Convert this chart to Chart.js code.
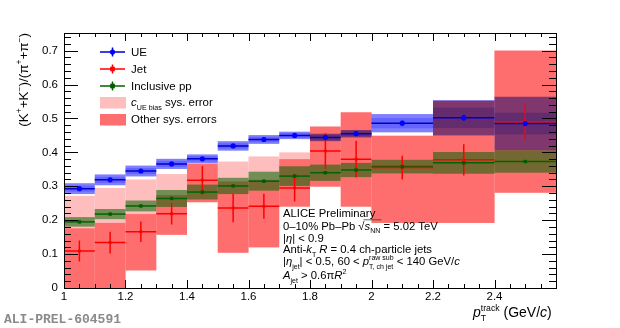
<!DOCTYPE html>
<html>
<head>
<meta charset="utf-8">
<script src="https://cdn.jsdelivr.net/npm/chart.js@4/dist/chart.umd.min.js"></script>
<style>
html,body{margin:0;padding:0;background:#fff;}
#c{display:block;}
</style>
</head>
<body>
<canvas id="c" width="620" height="328"></canvas>
<script>
// ---- data ----
const binLo = [1.0, 1.1, 1.2, 1.3, 1.4, 1.5, 1.6, 1.7, 1.8, 1.9, 2.0, 2.2, 2.4];
const binHi = [1.1, 1.2, 1.3, 1.4, 1.5, 1.6, 1.7, 1.8, 1.9, 2.0, 2.2, 2.4, 2.6];

const ueVal      = [0.293, 0.319, 0.345, 0.366, 0.381, 0.419, 0.438, 0.450, 0.444, 0.455, 0.486, 0.502, 0.485];
const ueStat     = [0.005, 0.005, 0.005, 0.005, 0.005, 0.005, 0.005, 0.005, 0.006, 0.006, 0.007, 0.009, 0.010];
const ueSysOuter = [0.016, 0.016, 0.016, 0.015, 0.013, 0.014, 0.013, 0.011, 0.011, 0.011, 0.027, 0.052, 0.079];
const ueSysInner = [0.009, 0.009, 0.009, 0.009, 0.008, 0.008, 0.008, 0.007, 0.007, 0.007, 0.015, 0.030, 0.032];

const jetVal     = [0.109, 0.134, 0.166, 0.219, 0.318, 0.236, 0.241, 0.295, 0.404, 0.380, 0.355, 0.378, 0.490];
const jetStat    = [0.031, 0.032, 0.030, 0.032, 0.042, 0.042, 0.037, 0.040, 0.052, 0.054, 0.035, 0.046, 0.054];
const jetOtherLo = [0.000, 0.000, 0.052, 0.157, 0.253, 0.104, 0.120, 0.240, 0.299, 0.240, 0.192, 0.192, 0.281];
const jetOtherHi = [0.176, 0.192, 0.218, 0.274, 0.366, 0.314, 0.319, 0.380, 0.476, 0.518, 0.449, 0.552, 0.700];
const jetCueHi   = [0.272, 0.295, 0.320, 0.336, 0.368, 0.373, 0.388, 0.400, 0.476, 0.518, 0.449, 0.552, 0.700];

const ppVal      = [0.195, 0.218, 0.242, 0.264, 0.283, 0.301, 0.315, 0.330, 0.340, 0.348, 0.358, 0.369, 0.373];
const ppSys      = [0.014, 0.015, 0.016, 0.025, 0.022, 0.024, 0.028, 0.029, 0.024, 0.021, 0.020, 0.032, 0.033];

const xTickValues = [1.0, 1.2, 1.4, 1.6, 1.8, 2.0, 2.2, 2.4];
const xTickLabels = ['1', '1.2', '1.4', '1.6', '1.8', '2', '2.2', '2.4'];
const yTickValues = [0, 0.1, 0.2, 0.3, 0.4, 0.5, 0.6, 0.7];
const yTickLabels = ['0', '0.1', '0.2', '0.3', '0.4', '0.5', '0.6', '0.7'];

const FAM = '"Liberation Sans", Arial, Helvetica, sans-serif';
const COL = {
  ue: '#0000ff', ueLine: '#0000c8',
  jet: '#ff0000',
  pp: '#005a00', ppLine: '#006400',
  pink: 'rgb(255,190,190)', red: 'rgb(255,110,110)',
  blueBand: 'rgb(128,128,255)', blueInner: 'rgb(200,200,255)',
  greenBand: 'rgba(0,100,0,0.55)'
};

const centers = binLo.map((lo, i) => (lo + binHi[i]) / 2);
const pts = (vals) => vals.map((v, i) => ({x: centers[i], y: v}));

function font(sz, it) { return (it ? 'italic ' : '') + sz + 'px ' + FAM; }

function drawRich(ctx, x, y, parts, size) {
  let cx = x;
  let olStart = null;
  ctx.textBaseline = 'alphabetic';
  ctx.textAlign = 'left';
  for (const p of parts) {
    if (p.stack) {
      const sz = size * 0.62;
      ctx.font = font(sz, false);
      const w1 = ctx.measureText(p.sup).width, w2 = ctx.measureText(p.sub).width;
      ctx.fillText(p.sup, cx, y - size * 0.42);
      ctx.fillText(p.sub, cx, y + size * 0.33);
      cx += Math.max(w1, w2);
      continue;
    }
    let sz = size, dy = 0;
    if (p.sub) { sz = size * 0.62; dy = size * 0.33; }
    if (p.sup) { sz = size * 0.62; dy = -size * 0.42; }
    ctx.font = font(sz, p.i);
    if (p.olStart) olStart = cx;
    ctx.fillText(p.t, cx, y + dy);
    cx += ctx.measureText(p.t).width;
    if (p.olEnd && olStart !== null) {
      ctx.save();
      ctx.lineWidth = 0.8;
      ctx.beginPath();
      ctx.moveTo(olStart - 1, y - size * 0.86);
      ctx.lineTo(cx + 1, y - size * 0.86);
      ctx.stroke();
      ctx.restore();
    }
  }
  return cx - x;
}

const rootPlugin = {
  id: 'rootPlugin',
  beforeDatasetsDraw(chart) {
    const ctx = chart.ctx, xs = chart.scales.x, ys = chart.scales.y, a = chart.chartArea;
    ctx.save();
    ctx.beginPath();
    ctx.rect(a.left, a.top, a.right - a.left, a.bottom - a.top);
    ctx.clip();
    const box = (i, lo, hi, color) => {
      const x0 = xs.getPixelForValue(binLo[i]), x1 = xs.getPixelForValue(binHi[i]);
      const y0 = ys.getPixelForValue(hi), y1 = ys.getPixelForValue(lo);
      ctx.fillStyle = color;
      ctx.fillRect(x0, y0, x1 - x0, y1 - y0);
    };
    binLo.forEach((_, i) => box(i, jetOtherLo[i], jetCueHi[i], COL.pink));
    binLo.forEach((_, i) => box(i, jetOtherLo[i], jetOtherHi[i], COL.red));
    ctx.globalCompositeOperation = 'multiply';
    binLo.forEach((_, i) => box(i, ueVal[i] - ueSysOuter[i], ueVal[i] + ueSysOuter[i], COL.blueBand));
    binLo.forEach((_, i) => box(i, ueVal[i] - ueSysInner[i], ueVal[i] + ueSysInner[i], COL.blueInner));
    ctx.globalCompositeOperation = 'source-over';
    binLo.forEach((_, i) => box(i, ppVal[i] - ppSys[i], ppVal[i] + ppSys[i], COL.greenBand));

    const errs = (vals, stat, color, lw) => {
      ctx.strokeStyle = color;
      ctx.lineWidth = lw;
      vals.forEach((v, i) => {
        const x0 = xs.getPixelForValue(binLo[i]), x1 = xs.getPixelForValue(binHi[i]);
        const xc = xs.getPixelForValue(centers[i]);
        const y = ys.getPixelForValue(v);
        ctx.beginPath();
        ctx.moveTo(x0, y); ctx.lineTo(x1, y);
        if (stat) {
          ctx.moveTo(xc, ys.getPixelForValue(v + stat[i]));
          ctx.lineTo(xc, ys.getPixelForValue(v - stat[i]));
        }
        ctx.stroke();
      });
    };
    errs(ppVal, null, COL.ppLine, 1.5);
    errs(ueVal, ueStat, COL.ueLine, 1.5);
    errs(jetVal, jetStat, COL.jet, 1.5);
    ctx.restore();
  },
  afterDraw(chart) {
    const ctx = chart.ctx, xs = chart.scales.x, ys = chart.scales.y, a = chart.chartArea;
    ctx.save();
    // frame
    ctx.strokeStyle = '#000';
    ctx.lineWidth = 1;
    ctx.strokeRect(Math.round(a.left) + 0.5, Math.round(a.top) + 0.5,
                   Math.round(a.right - a.left), Math.round(a.bottom - a.top));
    // x ticks (every 0.05, major every 0.2)
    ctx.beginPath();
    for (let k = 0; k <= 32; k++) {
      const v = 1 + k * 0.05;
      const px = Math.round(xs.getPixelForValue(v)) + 0.5;
      const len = (k % 4 === 0) ? 8 : 4;
      ctx.moveTo(px, a.bottom); ctx.lineTo(px, a.bottom - len);
      ctx.moveTo(px, a.top); ctx.lineTo(px, a.top + len);
    }
    // y ticks (every 0.02, major every 0.1)
    for (let k = 0; k <= 37; k++) {
      const v = k * 0.02;
      const py = Math.round(ys.getPixelForValue(v)) + 0.5;
      const len = (k % 5 === 0) ? 14 : 7;
      ctx.moveTo(a.left, py); ctx.lineTo(a.left + len, py);
      ctx.moveTo(a.right, py); ctx.lineTo(a.right - len, py);
    }
    ctx.stroke();

    // legend
    const lx0 = 100, lx1 = 125, tx = 131;
    const legLine = (y, color, lineColor, shape) => {
      ctx.strokeStyle = lineColor; ctx.lineWidth = 1.5;
      ctx.beginPath();
      ctx.moveTo(lx0, y); ctx.lineTo(lx1, y);
      ctx.moveTo((lx0 + lx1) / 2, y - 4.5); ctx.lineTo((lx0 + lx1) / 2, y + 4.5);
      ctx.stroke();
      ctx.fillStyle = color;
      const xc = (lx0 + lx1) / 2;
      if (shape === 'circle') { ctx.beginPath(); ctx.arc(xc, y, 2.6, 0, Math.PI * 2); ctx.fill(); }
      else { ctx.fillRect(xc - 2.3, y - 2.3, 4.6, 4.6); }
    };
    legLine(52, COL.ue, COL.ueLine, 'circle');
    legLine(69, COL.jet, COL.jet, 'rect');
    legLine(86, COL.pp, COL.ppLine, 'rect');
    ctx.fillStyle = COL.pink; ctx.fillRect(lx0, 97, lx1 - lx0 + 1, 11.5);
    ctx.fillStyle = COL.red; ctx.fillRect(lx0, 114, lx1 - lx0 + 1, 11.5);
    ctx.fillStyle = '#000';
    const LS = 11.5;
    drawRich(ctx, tx, 56, [{t: 'UE'}], LS);
    drawRich(ctx, tx, 73, [{t: 'Jet'}], LS);
    drawRich(ctx, tx, 90, [{t: 'Inclusive pp'}], LS);
    drawRich(ctx, tx, 106, [{t: 'c', i: true}, {t: 'UE bias', sub: true}, {t: ' sys. error'}], LS);
    drawRich(ctx, tx, 123, [{t: 'Other sys. errors'}], LS);

    // info text block
    const IX = 283, IS = 11.3;
    drawRich(ctx, IX, 217, [{t: 'ALICE Preliminary'}], IS);
    drawRich(ctx, IX, 229.5, [{t: '0\u201310% Pb\u2013Pb '}, {t: '\u221A'}, {t: 's', i: true, olStart: true}, {t: 'NN', sub: true, olEnd: true}, {t: ' = 5.02 TeV'}], IS);
    drawRich(ctx, IX, 241.5, [{t: '|'}, {t: '\u03B7', i: true}, {t: '| < 0.9'}], IS);
    drawRich(ctx, IX, 253, [{t: 'Anti-'}, {t: 'k', i: true}, {t: 'T', sub: true}, {t: ' '}, {t: 'R', i: true}, {t: ' = 0.4 ch-particle jets'}], IS);
    drawRich(ctx, IX, 265, [{t: '|'}, {t: '\u03B7', i: true}, {t: 'jet', sub: true}, {t: '| < 0.5, 60 < '}, {t: 'p', i: true}, {stack: true, sup: 'raw sub', sub: 'T, ch jet'}, {t: ' < 140 GeV/'}, {t: 'c', i: true}], IS);
    drawRich(ctx, IX, 279, [{t: 'A', i: true}, {t: 'jet', sub: true}, {t: ' > 0.6\u03C0'}, {t: 'R', i: true}, {t: '2', sup: true}], IS);

    // x axis title
    drawRich(ctx, 473, 316.5, [{t: 'p', i: true}, {stack: true, sup: 'track', sub: 'T'}, {t: ' (GeV/'}, {t: 'c', i: true}, {t: ')'}], 14);

    // y axis title (rotated), ending at top of frame
    ctx.save();
    ctx.translate(27.5, a.top);
    ctx.rotate(-Math.PI / 2);
    const yParts = [{t: '(K'}, {t: '+', sup: true}, {t: '+K'}, {t: '\u2212', sup: true}, {t: ')/(\u03C0'}, {t: '+', sup: true}, {t: '+\u03C0'}, {t: '\u2212', sup: true}, {t: ')'}];
    ctx.globalAlpha = 0;
    const w = drawRich(ctx, 0, 0, yParts, 13.5);
    ctx.globalAlpha = 1;
    drawRich(ctx, -w, 0, yParts, 13.5);
    ctx.restore();

    // watermark
    ctx.fillStyle = '#8a8a8a';
    ctx.font = 'bold 13px "Liberation Mono", "DejaVu Sans Mono", monospace';
    ctx.textBaseline = 'alphabetic';
    ctx.textAlign = 'left';
    ctx.fillText('ALI-PREL-604591', 4, 323);
    ctx.restore();
  }
};

new Chart(document.getElementById('c'), {
  type: 'scatter',
  data: {
    datasets: [
      {label: 'Inclusive pp', data: pts(ppVal), pointStyle: 'rect', pointRadius: 2.4,
       backgroundColor: COL.pp, borderColor: COL.pp, borderWidth: 0},
      {label: 'UE', data: pts(ueVal), pointStyle: 'circle', pointRadius: 2.6,
       backgroundColor: COL.ue, borderColor: COL.ue, borderWidth: 0},
      {label: 'Jet', data: pts(jetVal), pointStyle: 'rect', pointRadius: 2.0,
       backgroundColor: COL.jet, borderColor: COL.jet, borderWidth: 0}
    ]
  },
  options: {
    responsive: false,
    devicePixelRatio: 1,
    animation: false,
    events: [],
    layout: {padding: {left: 0, top: 33, right: 64, bottom: 0}},
    plugins: {legend: {display: false}, tooltip: {enabled: false}, title: {display: false}},
    scales: {
      x: {
        type: 'linear', min: 1.0, max: 2.6,
        grid: {display: false, drawTicks: false}, border: {display: false},
        afterFit: (s) => { s.height = 40; },
        afterBuildTicks: (s) => { s.ticks = xTickValues.map(v => ({value: v})); },
        ticks: {
          autoSkip: false, maxRotation: 0, minRotation: 0, padding: 2, color: '#000',
          font: {family: FAM, size: 11.5},
          callback: (v) => { const i = xTickValues.findIndex(t => Math.abs(t - v) < 1e-6); return i >= 0 ? xTickLabels[i] : ''; }
        }
      },
      y: {
        type: 'linear', min: 0, max: 0.752,
        grid: {display: false, drawTicks: false}, border: {display: false},
        afterFit: (s) => { s.width = 64; },
        afterBuildTicks: (s) => { s.ticks = yTickValues.map(v => ({value: v})); },
        ticks: {
          autoSkip: false, padding: 6, color: '#000',
          font: {family: FAM, size: 11.5},
          callback: (v) => { const i = yTickValues.findIndex(t => Math.abs(t - v) < 1e-6); return i >= 0 ? yTickLabels[i] : ''; }
        }
      }
    }
  },
  plugins: [rootPlugin]
});
</script>
</body>
</html>
